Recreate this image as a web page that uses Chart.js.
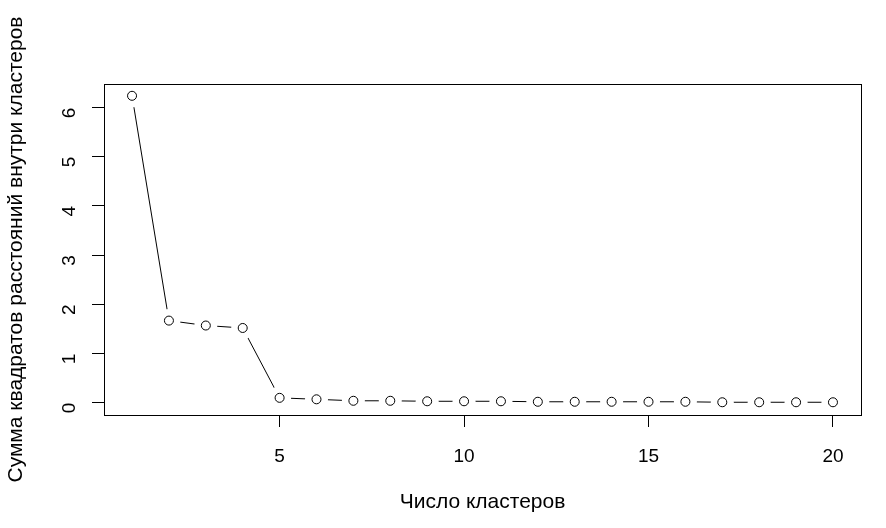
<!DOCTYPE html>
<html><head><meta charset="utf-8">
<script src="https://cdn.jsdelivr.net/npm/chart.js@4/dist/chart.umd.min.js"></script>
<style>html,body{margin:0;padding:0;background:#fff}#wrap{width:886px;height:528px}</style>
</head><body><div id="wrap"><canvas id="c" width="886" height="528"></canvas></div>
<script>
const clusters = [1,2,3,4,5,6,7,8,9,10,11,12,13,14,15,16,17,18,19,20];
const wss = [6.24,1.67,1.57,1.52,0.10,0.07,0.04,0.04,0.03,0.03,0.03,0.02,0.02,0.02,0.02,0.02,0.01,0.01,0.01,0.01];
const xTicks = [5,10,15,20];
const yTicks = [0,1,2,3,4,5,6];
const xTitle = 'Число кластеров';
const yTitle = 'Сумма квадратов расстояний внутри кластеров';

const pts = clusters.map((x,i)=>({x:x,y:wss[i]}));
const FONT = 'Liberation Sans, Arial, sans-serif';

const decor = {
  id:'decor',
  afterDraw(chart){
    const {ctx, chartArea:a} = chart;
    ctx.save();
    ctx.strokeStyle='#000'; ctx.lineWidth=1;
    ctx.strokeRect(Math.round(a.left)+0.5, Math.round(a.top)+0.5, Math.round(a.right-a.left), Math.round(a.bottom-a.top));
    ctx.fillStyle='#000';
    ctx.textAlign='center'; ctx.textBaseline='middle';
    ctx.font='21px '+FONT;
    ctx.fillText(xTitle, (a.left+a.right)/2, 502);
    ctx.translate(16,(a.top+a.bottom)/2);
    ctx.rotate(-Math.PI/2);
    ctx.fillText(yTitle,0,0);
    ctx.restore();
  }
};

new Chart(document.getElementById('c'), {
  type:'scatter',
  data:{datasets:[
    {data:pts, showLine:false, pointRadius:4.5, pointBackgroundColor:'#fff', pointBorderColor:'#000', pointBorderWidth:1, pointHoverRadius:4.5},
    {data:pts, showLine:true, borderColor:'#000', borderWidth:1, pointRadius:11.5, pointBackgroundColor:'#fff', pointBorderColor:'#fff', pointBorderWidth:0, pointHoverRadius:11.5}
  ]},
  options:{
    responsive:false, animation:false,
    layout:{padding:{top:84,right:25,left:0,bottom:0}},
    plugins:{legend:{display:false},tooltip:{enabled:false}},
    scales:{
      x:{type:'linear', min:0.24, max:20.76,
        afterBuildTicks(s){s.ticks=xTicks.map(v=>({value:v}));},
        afterFit(s){s.height=113;},
        border:{display:false},
        grid:{drawOnChartArea:false, drawTicks:true, tickLength:12, color:'#000', tickColor:'#000'},
        ticks:{color:'#000', font:{family:FONT,size:19}, padding:18, maxRotation:0}},
      y:{type:'linear', min:-0.249, max:6.48,
        afterBuildTicks(s){s.ticks=yTicks.map(v=>({value:v}));},
        afterFit(s){s.width=104;},
        border:{display:false},
        grid:{drawOnChartArea:false, drawTicks:true, tickLength:12, color:'#000', tickColor:'#000'},
        ticks:{color:'#000', font:{family:FONT,size:19}, padding:22, minRotation:90, maxRotation:90}}
    }
  },
  plugins:[decor]
});
</script></body></html>
